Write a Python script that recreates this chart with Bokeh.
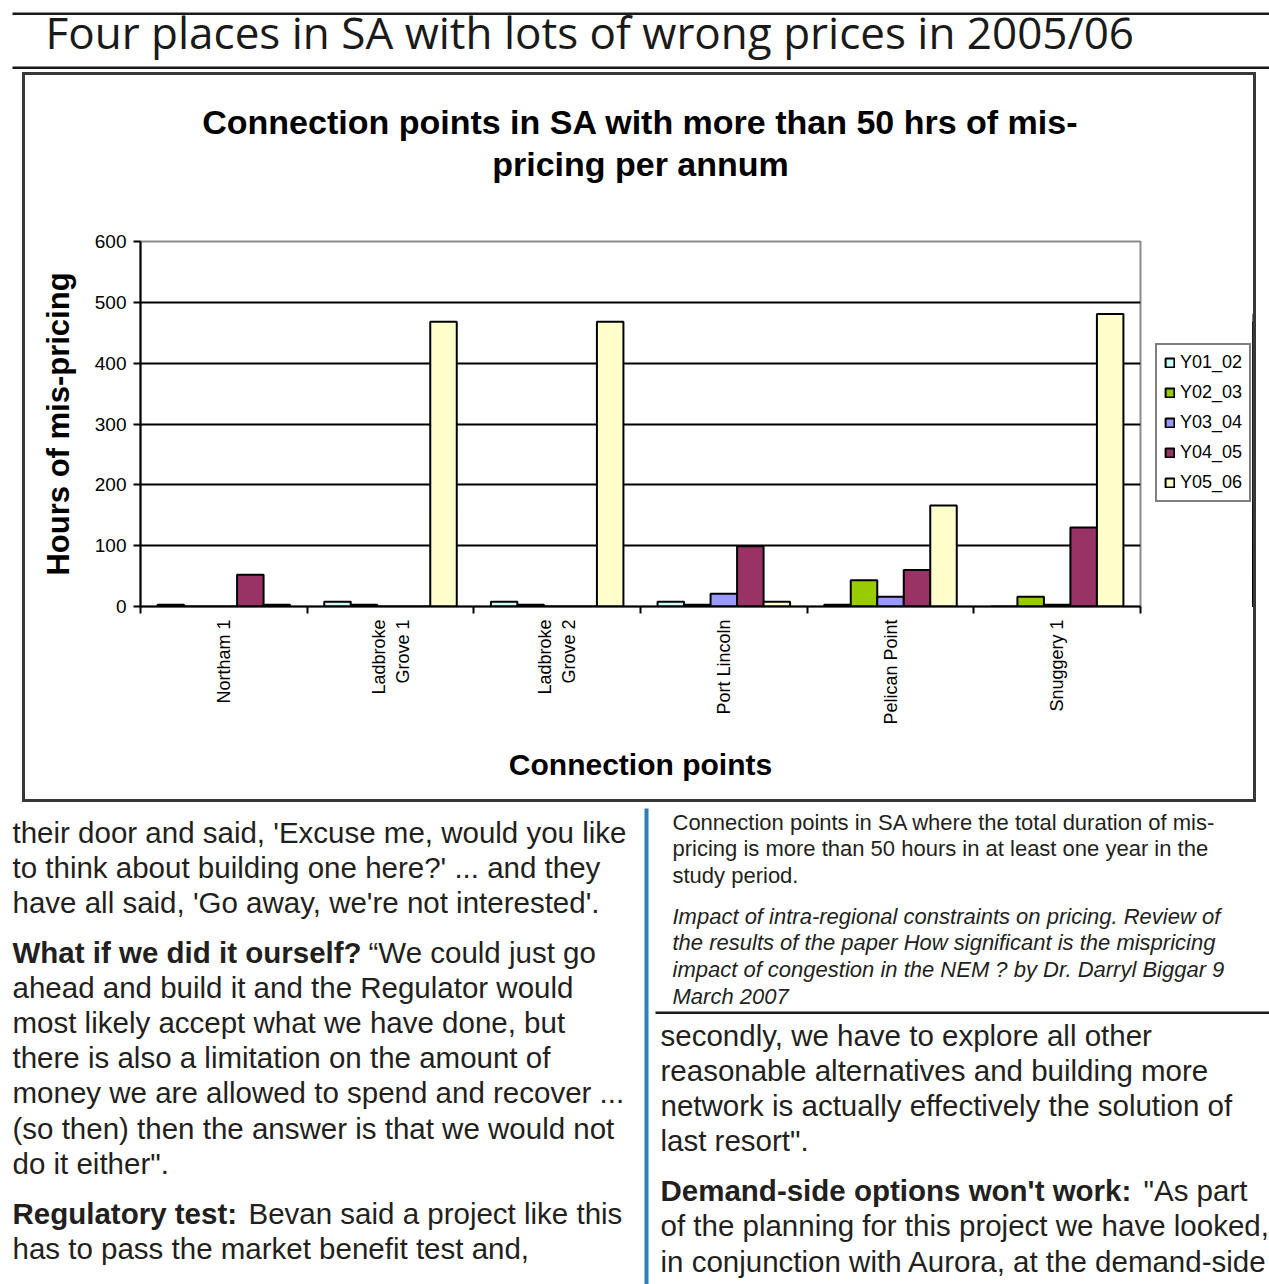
import math
from bokeh.plotting import figure
from bokeh.layouts import column, row
from bokeh.models import (Range1d, FixedTicker, LinearAxis, Label, Spacer,
                          Legend, LegendItem, ColumnDataSource, Grid)
from bokeh.transform import dodge
from bokeh.embed import file_html
from bokeh.resources import INLINE

# ---------------- data ----------------
categories = ["Northam 1", "Ladbroke\nGrove 1", "Ladbroke\nGrove 2",
              "Port Lincoln", "Pelican Point", "Snuggery 1"]
series_names = ["Y01_02", "Y02_03", "Y03_04", "Y04_05", "Y05_06"]
y01_02 = [3, 8, 8, 8, 3, 0]
y02_03 = [0, 3, 3, 3, 43, 16]
y03_04 = [0, 0, 0, 21, 16, 3]
y04_05 = [52, 0, 0, 99, 60, 130]
y05_06 = [3, 468, 468, 8, 166, 481]
y_ticks = [0, 100, 200, 300, 400, 500, 600]
series_colors = ["#CCFFFF", "#99CC00", "#9999FF", "#993366", "#FFFFCC"]

page_title = "Four  places in SA  with lots of wrong prices in 2005/06"
chart_title = ["Connection points in SA with more than 50 hrs of mis-", "pricing per annum"]
y_label = "Hours of mis-pricing"
x_label = "Connection points"

left_lines = [
    (None, "their door and said, 'Excuse me, would you like"),
    (None, "to think about building one here?' ... and they"),
    (None, "have all said, 'Go away, we're not interested'."),
    ("What if we did it ourself?", "\u201cWe could just go"),
    (None, "ahead and build it and the Regulator would"),
    (None, "most likely accept what we have done, but"),
    (None, "there is also a limitation on the amount of"),
    (None, "money we are allowed to spend and recover ..."),
    (None, "(so then) then the answer is that we would not"),
    (None, "do it either\"."),
    ("Regulatory test:", "Bevan said a project like this"),
    (None, "has to pass the market benefit test and,"),
]
left_y = [832, 867, 902, 952, 987, 1022, 1057, 1092, 1128, 1163, 1213, 1248]
left_cont_x = {3: 368, 10: 248}

caption_lines = ["Connection points in SA where the total duration of mis-",
                 "pricing is more than 50 hours in at least one year in the",
                 "study period."]
caption_y = [822, 848, 875]
source_lines = ["Impact of  intra-regional constraints on pricing. Review of",
                "the results of the paper How significant is the mispricing",
                "impact of congestion in the NEM ? by Dr. Darryl Biggar 9",
                "March 2007"]
source_y = [916, 942, 969, 996]
right_lines = [
    (None, "secondly, we have to explore all other"),
    (None, "reasonable alternatives and building more"),
    (None, "network is actually effectively the solution of"),
    (None, "last resort\"."),
    ("Demand-side options won't work:", "\"As part"),
    (None, "of the planning for this project we have looked,"),
    (None, "in conjunction with Aurora, at the demand-side"),
]
right_y = [1035, 1070, 1105, 1140, 1190, 1225, 1261]
right_cont_x = {4: 1143}

# ---------------- layout constants (page pixels) ----------------
PW, PH = 1269, 1284
HEAD_B = 72                  # header bottom = chart box top
BOX_L, BOX_R, BOX_B = 22, 1256, 802
EDGE = 3                     # chart box edge thickness
IN_L, IN_R, IN_T, IN_B = BOX_L + EDGE, BOX_R - EDGE, HEAD_B + EDGE, BOX_B - EDGE
TITLE_B = 215                # chart-title strip bottom
FL, FR, FT, FB = 140, 1140, 241, 606   # plot frame
LEG_X = 1142                 # legend figure left edge
EDGE_COLOR = "#383838"

BODY = "'Liberation Sans', Arial, sans-serif"
CHART = "'Liberation Sans', Arial, sans-serif"
TITLE = "'Open Sans', 'Noto Sans', sans-serif"
INK = "#231f20"


def deco_fig(x0, x1, y0, y1):
    f = figure(width=x1 - x0, height=y1 - y0, x_range=Range1d(x0, x1), y_range=Range1d(y1, y0),
               output_backend="svg", toolbar_location=None, x_axis_type=None, y_axis_type=None,
               min_border=0, outline_line_color=None)
    f.background_fill_color = "white"
    f.border_fill_color = "white"
    f.grid.visible = False
    return f


def rect(f, l, r, t, b, color="#1a1a1a"):
    f.quad(left=l, right=r, top=t, bottom=b, fill_color=color, line_color=None)


def text(f, t, x, y, size, font=BODY, style="normal", color=INK, align="left"):
    f.add_layout(Label(x=x, y=y, text=t, text_font=font, text_font_size=f"{size}px",
                       text_font_style=style, text_color=color, text_align=align,
                       text_baseline="alphabetic"))


def edge(w, h):
    return Spacer(width=w, height=h, styles={"background-color": EDGE_COLOR})


# ---------------- header ----------------
head = deco_fig(0, PW, 0, HEAD_B)
rect(head, 12, PW, 12, 14.5)
rect(head, 12, PW, 66, 68.5)
text(head, page_title, 45, 31, 44, font=TITLE, color="#1a1a1a")

# ---------------- chart title strip ----------------
tfig = deco_fig(IN_L, IN_R, IN_T, TITLE_B)
text(tfig, chart_title[0], 640, 121, 34, font=CHART, style="bold", color="black", align="center")
text(tfig, chart_title[1], 640, 163, 34, font=CHART, style="bold", color="black", align="center")

# ---------------- chart ----------------
n = len(categories)
p = figure(width=LEG_X - IN_L, height=IN_B - TITLE_B, x_range=Range1d(0, n), y_range=Range1d(0, 600),
           output_backend="svg", toolbar_location=None,
           x_axis_type=None, y_axis_type=None,
           min_border_left=FL - IN_L, min_border_right=LEG_X - FR,
           min_border_top=FT - TITLE_B, min_border_bottom=IN_B - FB)
p.background_fill_color = "white"
p.border_fill_color = "white"
p.outline_line_color = "#8c8c8c"
p.outline_line_width = 2

xaxis = LinearAxis(
    ticker=FixedTicker(ticks=[i + 0.5 for i in range(n)], minor_ticks=list(range(n + 1))),
    major_label_overrides={i + 0.5: c for i, c in enumerate(categories)},
    major_label_orientation=math.pi / 2,
    major_tick_out=0, major_tick_in=0,
    minor_tick_out=7, minor_tick_in=0,
    minor_tick_line_color="black", minor_tick_line_width=2,
    axis_line_color="black", axis_line_width=2,
    major_label_standoff=6,
    major_label_text_font=CHART, major_label_text_font_size="18px",
    major_label_text_color="black",
    axis_label=x_label, axis_label_text_font=CHART, axis_label_text_font_size="30px",
    axis_label_text_font_style="bold", axis_label_text_color="black",
    axis_label_standoff=20)
p.add_layout(xaxis, "below")

yaxis = LinearAxis(
    ticker=FixedTicker(ticks=y_ticks),
    major_tick_out=7, major_tick_in=0, minor_tick_out=0, minor_tick_in=0,
    major_tick_line_color="black", major_tick_line_width=2,
    axis_line_color="black", axis_line_width=2,
    major_label_standoff=7,
    major_label_text_font=CHART, major_label_text_font_size="19px",
    major_label_text_color="black",
    axis_label=y_label, axis_label_text_font=CHART, axis_label_text_font_size="31px",
    axis_label_text_font_style="bold", axis_label_text_color="black",
    axis_label_standoff=16)
p.add_layout(yaxis, "left")

p.add_layout(Grid(dimension=1, ticker=FixedTicker(ticks=y_ticks[1:-1]),
                  grid_line_color="black", grid_line_width=2))

src = ColumnDataSource(dict(
    x=[i + 0.5 for i in range(n)],
    Y01_02=y01_02, Y02_03=y02_03, Y03_04=y03_04, Y04_05=y04_05, Y05_06=y05_06))
bw = 0.159
for k, (name, col) in enumerate(zip(series_names, series_colors)):
    p.vbar(x=dodge("x", (k - 2) * bw), top=name, width=bw, bottom=0, source=src,
           fill_color=col, line_color="black", line_width=2)

# ---------------- legend (own small figure to the right of the plot) ----------------
# the key's glyph renderers share the bar data, but this figure's x range shows none of it
lfig = figure(width=IN_R - LEG_X, height=IN_B - TITLE_B,
              x_range=Range1d(-3, -2), y_range=Range1d(0, 600),
              output_backend="svg", toolbar_location=None, x_axis_type=None, y_axis_type=None,
              min_border_left=0, min_border_right=0,
              min_border_top=FT - TITLE_B, min_border_bottom=IN_B - FB, outline_line_color=None)
lfig.grid.visible = False
lfig.background_fill_color = "white"
lfig.border_fill_color = "white"
items = []
for name, col in zip(series_names, series_colors):
    r = lfig.vbar(x="x", top=name, width=bw, source=src,
                  fill_color=col, line_color="black", line_width=2)
    items.append(LegendItem(label=name, renderers=[r]))
legend = Legend(items=items, location=(1155 - LEG_X, FB - 502),
                border_line_color="black", border_line_width=2,
                background_fill_color="white", background_fill_alpha=1,
                label_text_font=CHART, label_text_font_size="18px", label_text_color="black",
                glyph_width=11, glyph_height=11, label_height=20, label_standoff=5,
                spacing=9, padding=7, margin=0)
lfig.add_layout(legend)

inner = column(tfig, row(p, lfig))
box = column(edge(BOX_R - BOX_L, EDGE),
             row(edge(EDGE, IN_B - IN_T), inner, edge(EDGE, IN_B - IN_T)),
             edge(BOX_R - BOX_L, EDGE))

# ---------------- bottom text ----------------
bot = deco_fig(0, PW, BOX_B, PH)

for i, ((b, t), yy) in enumerate(zip(left_lines, left_y)):
    if b:
        text(bot, b, 12, yy, 29.5, style="bold")
        text(bot, t, left_cont_x[i], yy, 29.5)
    else:
        text(bot, t, 12, yy, 29.5)

rect(bot, 644, 648, 808, PH, color="#2b7fba")   # blue column divider

for t, yy in zip(caption_lines, caption_y):
    text(bot, t, 672, yy, 22)
for t, yy in zip(source_lines, source_y):
    text(bot, t, 672, yy, 22, style="italic")
rect(bot, 655, PW, 1011, 1013.5)

for i, ((b, t), yy) in enumerate(zip(right_lines, right_y)):
    if b:
        text(bot, b, 660, yy, 29.5, style="bold")
        text(bot, t, right_cont_x[i], yy, 29.5)
    else:
        text(bot, t, 660, yy, 29.5)

page = column(head, row(Spacer(width=BOX_L, height=BOX_B - HEAD_B), box), bot)
open("out.html", "w").write(file_html(page, INLINE))
